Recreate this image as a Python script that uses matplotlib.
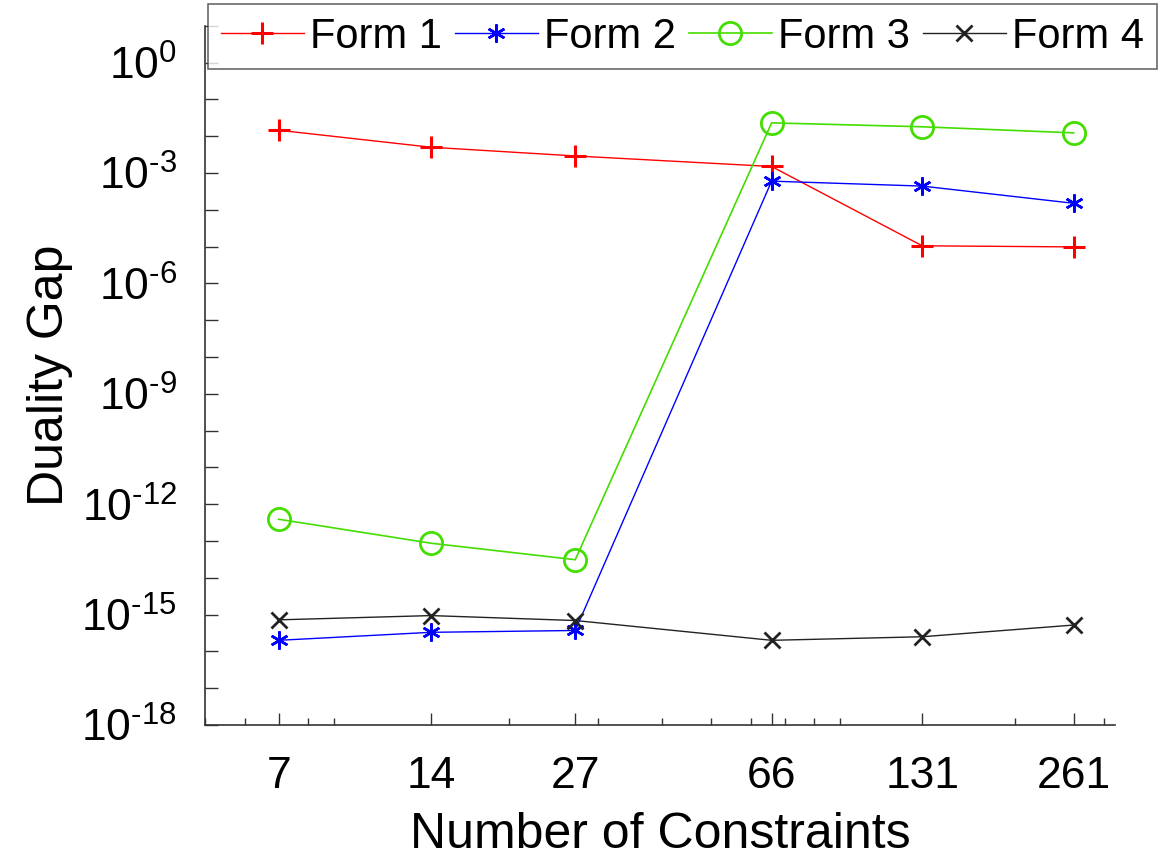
import matplotlib
matplotlib.use("Agg")
import matplotlib.pyplot as plt
from matplotlib.ticker import FixedLocator, LogLocator, NullFormatter, FixedFormatter

plt.rcParams['font.family'] = ['Liberation Sans', 'DejaVu Sans']
plt.rcParams['mathtext.fontset'] = 'custom'
plt.rcParams['mathtext.rm'] = 'Liberation Sans'
plt.rcParams['mathtext.it'] = 'Liberation Sans'

constraints = [7, 14, 27, 66, 131, 261]
tick_labels = ['7', '14', '27', '66', '131', '261']
ytick_exps = [-18, -15, -12, -9, -6, -3, 0]
form1 = [1.45e-2, 5.0e-3, 2.9e-3, 1.5e-3, 1.05e-5, 9.8e-6]
form2 = [2.0e-16, 3.3e-16, 3.7e-16, 6.0e-4, 4.4e-4, 1.5e-4]
form3 = [3.9e-13, 8.7e-14, 3.1e-14, 2.3e-2, 1.8e-2, 1.23e-2]
form4 = [7.2e-16, 9.4e-16, 6.9e-16, 2.0e-16, 2.5e-16, 5.2e-16]

fig = plt.figure(figsize=(11.70, 8.59), dpi=100)
ax = fig.add_axes([0.175, 0.156, 0.778, 0.814])

ax.plot(constraints, form1, color='#ff0000', marker='+', ms=16, mew=2.2, lw=1.0, label='Form 1')
ax.plot(constraints, form2, color='#0000ff', marker=(6, 2, 0), ms=13, mew=1.8, lw=1.0, label='Form 2')
ax.plot(constraints, form3, color='#44dd00', marker='o', ms=16, mfc='none', mew=2.0, lw=1.2, label='Form 3')
ax.plot(constraints, form4, color='#222222', marker='x', ms=12, mew=2.0, lw=1.0, label='Form 4')

ax.set_xscale('log')
ax.set_yscale('log')
ax.set_xlim(5.0, 315)
ax.set_ylim(1e-18, 1e1)

ax.xaxis.set_major_locator(FixedLocator(constraints))
ax.xaxis.set_major_formatter(FixedFormatter(tick_labels))
ax.xaxis.set_minor_locator(LogLocator(base=10, subs=(2, 3, 4, 5, 6, 7, 8, 9)))
ax.xaxis.set_minor_formatter(NullFormatter())

ax.yaxis.set_major_locator(FixedLocator([10.0 ** e for e in ytick_exps]))
ax.yaxis.set_major_formatter(FixedFormatter(
    [r'$10^{\text{-}%d}$' % (-e) if e < 0 else r'$10^{%d}$' % e for e in ytick_exps]))
ax.yaxis.set_minor_locator(FixedLocator([10.0 ** k for k in range(-18, 2)]))
ax.yaxis.set_minor_formatter(NullFormatter())

for s in ['top', 'right']:
    ax.spines[s].set_visible(False)
for s in ['left', 'bottom']:
    ax.spines[s].set_color('#333333')
    ax.spines[s].set_linewidth(1.2)

ax.tick_params(axis='both', which='both', direction='in', color='#333333', width=1.0)
ax.tick_params(axis='both', which='major', length=9, labelsize=32)
ax.tick_params(axis='x', which='major', pad=22)
ax.tick_params(axis='y', which='major', pad=20)
ax.tick_params(axis='both', which='minor', length=5)
ax.tick_params(axis='y', which='minor', length=9)

ax.set_xlabel('Number of Constraints', fontsize=36, labelpad=11)
ax.set_ylabel('Duality Gap', fontsize=36, labelpad=6)

leg = fig.legend(loc='upper left', bbox_to_anchor=(0.178, 0.995), ncol=4, fontsize=30,
                 frameon=True, fancybox=False, handlelength=2.0, handletextpad=0.15,
                 columnspacing=0.3, borderpad=0.3, borderaxespad=0.0)
leg.get_frame().set_edgecolor('#444444')
leg.get_frame().set_linewidth(1.2)

fig.savefig('out.png', dpi=100)
